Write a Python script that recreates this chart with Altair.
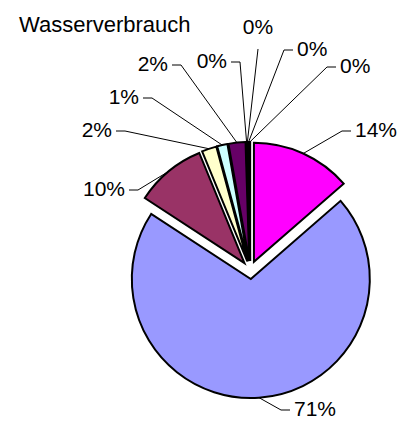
import altair as alt
import pandas as pd

# ---- data (clockwise from 12 o'clock) ----
values = [13.6, 70.6, 9.6, 2.0, 1.4, 2.3, 0.1, 0.1, 0.2, 0.1]
colors = ["#FF00FF", "#9999FF", "#993366", "#FFFFCC", "#CCFFFF",
          "#660066", "#FF8080", "#0066CC", "#CCCCFF", "#000080"]
title_text = "Wasserverbrauch"

# ---- layout (chart pixel coordinates) ----
CX, CY = 242.2, 262.0      # pie centre
R = 119                    # pie radius
EXPLODE = 9                # explode distance of each slice
label_x = [347, 286, 117, 104, 131, 160, 219, 250, 289, 332]
label_y = [123, 402, 182, 123, 90, 57, 54, 20, 42, 59]
label_side = [1, 1, -1, -1, -1, -1, -1, 0, 1, 1]
FONT = "Liberation Sans"

df = pd.DataFrame({
    "idx": list(range(len(values))),
    "value": values,
    "color": colors,
    "lx": label_x,
    "ly": label_y,
    "side": label_side,
})

base = (
    alt.Chart(df)
    .transform_joinaggregate(total="sum(value)")
    .transform_window(cum="sum(value)", sort=[alt.SortField("idx")], frame=[None, 0])
    .transform_calculate(
        a0="2*PI*(datum.cum - datum.value)/datum.total",
        a1="2*PI*datum.cum/datum.total",
    )
    .transform_calculate(mid="(datum.a0 + datum.a1)/2")
    .transform_calculate(
        cx=f"{CX} + {EXPLODE}*sin(datum.mid)",
        cy=f"{CY} - {EXPLODE}*cos(datum.mid)",
        pct="format(datum.value/datum.total, '.0%')",
    )
    .transform_calculate(
        ax=f"datum.cx + {R}*sin(datum.mid)",
        ay=f"datum.cy - {R}*cos(datum.mid)",
        ex="datum.side == 0 ? datum.lx : datum.lx - datum.side*13",
        ey="datum.side == 0 ? datum.ly + 21 : datum.ly",
        tx="datum.side == 0 ? datum.lx : datum.lx - datum.side*4",
    )
)

pie = base.mark_arc(radius=R, stroke="black", strokeWidth=2, strokeJoin="miter").encode(
    theta=alt.Theta("a0:Q", scale=None, stack=False),
    theta2="a1:Q",
    x=alt.X("cx:Q", scale=None),
    y=alt.Y("cy:Q", scale=None),
    fill=alt.Fill("color:N", scale=None),
)

leader1 = base.mark_rule(color="black", strokeWidth=1).encode(
    x=alt.X("ax:Q", scale=None),
    y=alt.Y("ay:Q", scale=None),
    x2="ex:Q",
    y2="ey:Q",
)

leader2 = base.mark_rule(color="black", strokeWidth=1).encode(
    x=alt.X("ex:Q", scale=None),
    y=alt.Y("ey:Q", scale=None),
    x2="tx:Q",
    y2="ey:Q",
)

def labels(side, align):
    return base.transform_filter(f"datum.side == {side}").mark_text(
        align=align, baseline="middle", font=FONT, fontSize=21, color="black"
    ).encode(
        x=alt.X("lx:Q", scale=None),
        y=alt.Y("ly:Q", scale=None),
        text="pct:N",
    )

title = alt.Chart(pd.DataFrame({"t": [title_text]})).mark_text(
    align="left", baseline="middle", font=FONT, fontSize=22, color="black"
).encode(
    x=alt.value(11),
    y=alt.value(16.5),
    text="t:N",
)

chart = (
    alt.layer(pie, leader1, leader2,
              labels(1, "left"), labels(-1, "right"), labels(0, "center"), title)
    .properties(width=394, height=411, autosize=alt.AutoSizeParams(type="none"), padding=0,
                background="white")
    .configure_view(strokeWidth=0)
)

chart.save("out.html", embed_options={"renderer": "svg", "actions": False})
